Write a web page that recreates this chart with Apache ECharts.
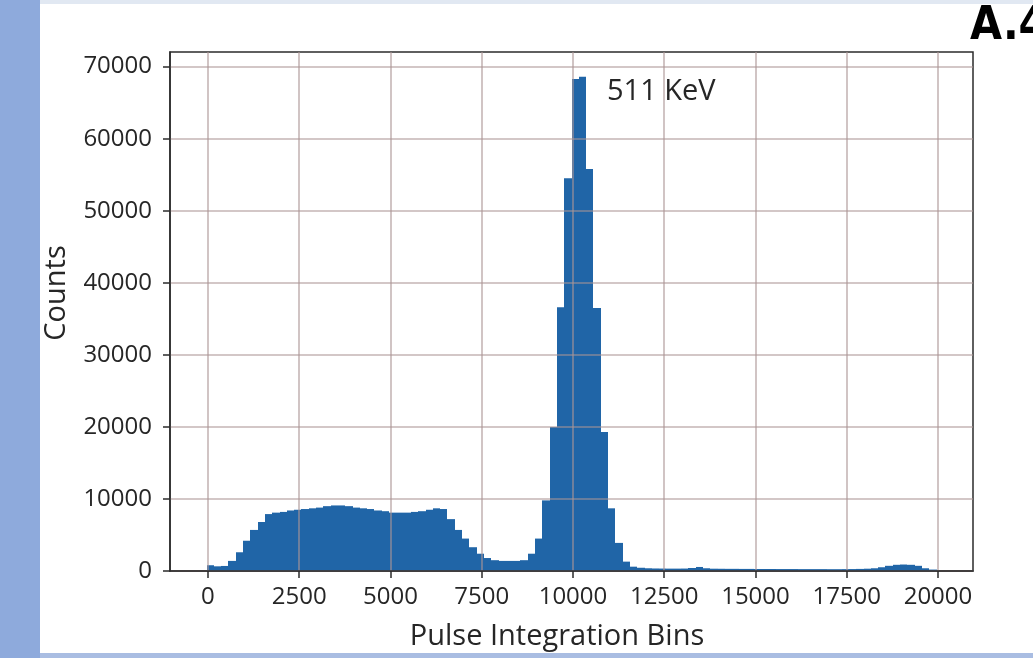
<!DOCTYPE html>
<html>
<head>
<meta charset="utf-8">
<script src="https://cdn.jsdelivr.net/npm/echarts@6/dist/echarts.min.js"></script>
<style>
  html, body { margin: 0; padding: 0; background: #ffffff; }
  #chart { width: 1033px; height: 658px; }
</style>
</head>
<body>
<div id="chart"></div>
<script>
// Histogram of pulse integrals: 100 bins of equal width
const binStart = -40;
const binWidth = 200;
const counts = [
  800, 650, 700, 1400, 2600, 4200, 5700, 6800, 7900, 8100,
  8200, 8400, 8500, 8600, 8700, 8800, 9000, 9100, 9100, 9000,
  8800, 8700, 8600, 8400, 8300, 8100, 8100, 8100, 8200, 8300,
  8500, 8700, 8600, 7200, 5700, 4500, 3300, 2400, 1800, 1500,
  1400, 1400, 1400, 1500, 2400, 4500, 9800, 20000, 36600, 54500,
  68300, 68600, 55800, 36500, 19300, 8700, 3900, 1300, 600, 450,
  380, 350, 340, 330, 330, 340, 420, 560, 380, 320,
  310, 300, 300, 290, 290, 280, 280, 280, 270, 270,
  270, 260, 260, 260, 260, 250, 250, 260, 270, 290,
  320, 380, 520, 720, 860, 900, 860, 720, 380, 200
];
const xTicks = [0, 2500, 5000, 7500, 10000, 12500, 15000, 17500, 20000];
const yTicks = [0, 10000, 20000, 30000, 40000, 50000, 60000, 70000];
const peakLabel = '511 KeV';
const xName = 'Pulse Integration Bins';
const yName = 'Counts';
const panelTag = 'A.4';

const bins = counts.map((c, i) => [binStart + i * binWidth, binStart + (i + 1) * binWidth, c]);
const span = counts.length * binWidth;
const xMin = binStart - span * 0.05;
const xMax = binStart + span * 1.05;
const yMax = Math.max(...counts) * 1.05;

const barColor = '#2065a7';
const gridColor = 'rgba(172,150,150,0.7)';
const inkColor = '#262626';
const frameColor = '#2b2b2b';
const tickFont = 'Open Sans';
const plainNumber = v => String(v);

const chart = echarts.init(document.getElementById('chart'), null, { renderer: 'canvas' });

chart.setOption({
  animation: false,
  backgroundColor: '#ffffff',
  grid: {
    left: 170, top: 52, width: 803, height: 519,
    show: true, borderColor: frameColor, borderWidth: 1.5, backgroundColor: 'transparent'
  },
  xAxis: {
    type: 'value', min: xMin, max: xMax, z: 3,
    axisLine: { show: true, onZero: false, lineStyle: { color: frameColor, width: 1.5 } },
    axisTick: { show: true, inside: false, length: 7, customValues: xTicks,
                lineStyle: { color: frameColor, width: 1.5 } },
    axisLabel: { customValues: xTicks, formatter: plainNumber, margin: 14, color: inkColor,
                 fontFamily: tickFont, fontSize: 24 },
    splitLine: { show: true, lineStyle: { color: gridColor, width: 1.6 } }
  },
  yAxis: {
    type: 'value', min: 0, max: yMax, z: 3,
    axisLine: { show: true, onZero: false, lineStyle: { color: frameColor, width: 1.5 } },
    axisTick: { show: true, inside: false, length: 7, customValues: yTicks,
                lineStyle: { color: frameColor, width: 1.5 } },
    axisLabel: { customValues: yTicks, formatter: plainNumber, margin: 18, color: inkColor,
                 fontFamily: tickFont, fontSize: 24 },
    splitLine: { show: true, lineStyle: { color: gridColor, width: 1.6 } }
  },
  series: [{
    type: 'custom',
    data: bins,
    encode: { x: [0, 1], y: 2 },
    z: 2,
    renderItem: function (params, api) {
      const topLeft = api.coord([api.value(0), api.value(2)]);
      const bottomRight = api.coord([api.value(1), 0]);
      // snap edges to whole pixels so neighbouring bins join without seams
      const x0 = Math.round(topLeft[0]);
      const x1 = Math.round(bottomRight[0]);
      return {
        type: 'rect',
        shape: {
          x: x0, y: topLeft[1],
          width: x1 - x0,
          height: bottomRight[1] - topLeft[1]
        },
        style: { fill: barColor }
      };
    }
  }],
  graphic: [
    // page frame: blue side strip and thin top/bottom rules
    { type: 'rect', shape: { x: 0, y: 0, width: 40, height: 658 }, style: { fill: '#8eaadc' }, z: 0 },
    { type: 'rect', shape: { x: 40, y: 0, width: 993, height: 4 }, style: { fill: '#e1e8f2' }, z: 0 },
    { type: 'rect', shape: { x: 40, y: 653, width: 993, height: 5 }, style: { fill: '#a9bde2' }, z: 0 },
    {
      type: 'text', x: 970, y: 4, z: 10,
      style: { text: panelTag, fill: '#000000', textAlign: 'left', textVerticalAlign: 'top',
               font: 'bold 46px "Liberation Sans Narrow", "DejaVu Sans Condensed", sans-serif' }
    },
    {
      type: 'text', x: 607, y: 92, z: 10,
      style: { text: peakLabel, fill: inkColor, textAlign: 'left', textVerticalAlign: 'middle',
               font: '29px "Open Sans", sans-serif' }
    },
    {
      type: 'text', x: 557, y: 637, z: 10,
      style: { text: xName, fill: inkColor, textAlign: 'center', textVerticalAlign: 'middle',
               font: '29px "Open Sans", sans-serif' }
    },
    {
      type: 'text', x: 57, y: 293, rotation: Math.PI / 2, z: 10,
      style: { text: yName, fill: inkColor, textAlign: 'center', textVerticalAlign: 'middle',
               font: '29px "Open Sans", sans-serif' }
    }
  ]
});
</script>
</body>
</html>
